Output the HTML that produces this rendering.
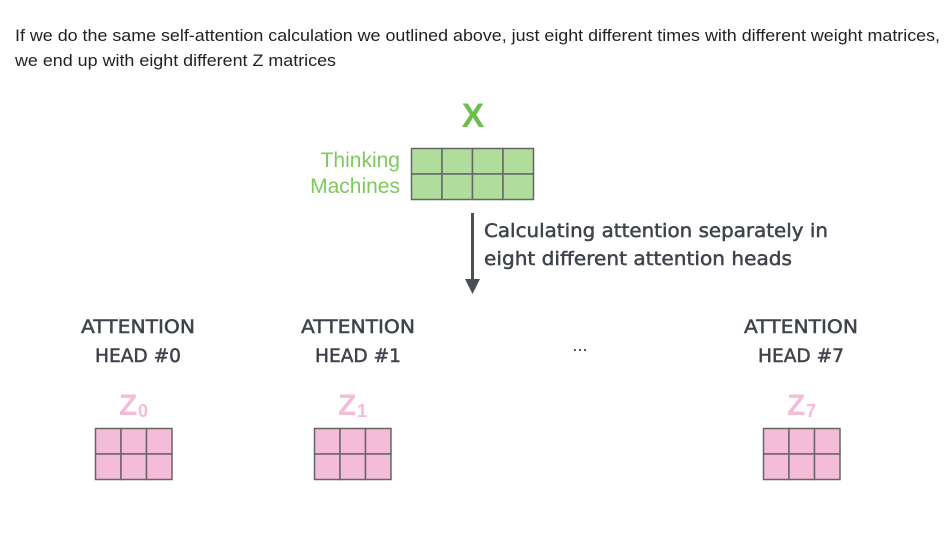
<!DOCTYPE html>
<html><head><meta charset="utf-8"><style>
html,body{margin:0;padding:0;background:#fff;width:949px;height:545px;overflow:hidden}
</style></head><body>
<svg width="949" height="545" xmlns="http://www.w3.org/2000/svg">
<g font-family="Liberation Sans, sans-serif" font-size="17" fill="#222">
<text x="15" y="41" textLength="925" lengthAdjust="spacingAndGlyphs">If we do the same self-attention calculation we outlined above, just eight different times with different weight matrices,</text>
<text x="15" y="66" textLength="321" lengthAdjust="spacingAndGlyphs">we end up with eight different Z matrices</text>
</g>
<text x="473" y="127" text-anchor="middle" font-family="Liberation Sans, sans-serif" font-weight="bold" font-size="34" fill="#6cc04a">X</text>
<g font-family="Liberation Sans, sans-serif" font-size="21" fill="#7dc95e" text-anchor="end">
<text x="400" y="167">Thinking</text>
<text x="400" y="193">Machines</text>
</g>
<g id="xg"></g>
<g>
<rect x="471" y="213" width="3" height="68" fill="#4a4e57"/>
<polygon points="465,279 480,279 472.5,294" fill="#4a4e57"/>
</g>
<g font-family="DejaVu Sans, sans-serif" font-size="19" fill="#3f434c" stroke="#3f434c" stroke-width="0.5">
<text x="484" y="237" textLength="344" lengthAdjust="spacingAndGlyphs">Calculating attention separately in</text>
<text x="484" y="265" textLength="308" lengthAdjust="spacingAndGlyphs">eight different attention heads</text>
</g>
<g id="heads"></g>
<text x="580" y="351" text-anchor="middle" font-family="DejaVu Sans, sans-serif" font-size="16" fill="#333">...</text>
</svg>
<script>
const NS="http://www.w3.org/2000/svg";
function grid(parent,x,y,cols,rows,cw,ch,fill){
  for(let r=0;r<rows;r++)for(let c=0;c<cols;c++){
    const e=document.createElementNS(NS,'rect');
    e.setAttribute('x',x+c*cw);e.setAttribute('y',y+r*ch);
    e.setAttribute('width',cw);e.setAttribute('height',ch);
    e.setAttribute('fill',fill);e.setAttribute('stroke','#666');e.setAttribute('stroke-width','1.5');
    
    
    parent.appendChild(e);
  }
}
grid(document.getElementById('xg'),411.5,148.5,4,2,30.5,25.5,'#b0dd9c');
const heads=[{x:95,cx:138,n:'0'},{x:314,cx:358,n:'1'},{x:763,cx:801,n:'7'}];
const hg=document.getElementById('heads');
heads.forEach(h=>{
  const g=document.createElementNS(NS,'g');
  
  
  const cx=h.cx;
  g.innerHTML=`<text x="${cx}" y="333" text-anchor="middle" textLength="114" lengthAdjust="spacingAndGlyphs" font-family="DejaVu Sans, sans-serif" font-size="19" fill="#3f434c" stroke="#3f434c" stroke-width="0.5">ATTENTION</text>
<text x="${cx}" y="362" text-anchor="middle" textLength="86" lengthAdjust="spacingAndGlyphs" font-family="DejaVu Sans, sans-serif" font-size="19" fill="#3f434c" stroke="#3f434c" stroke-width="0.5">HEAD #${h.n}</text>
<text x="${h.x+24}" y="415" font-family="Liberation Sans, sans-serif" font-weight="bold" font-size="30" fill="#f5bcd9">Z</text>
<text x="${h.x+43}" y="417" font-family="Liberation Sans, sans-serif" font-weight="bold" font-size="18" fill="#f5bcd9">${h.n}</text>`;
  grid(g,h.x+0.5,428.5,3,2,25.5,25.5,'#f5bcd9');
  hg.appendChild(g);
});
</script>
</body></html>
